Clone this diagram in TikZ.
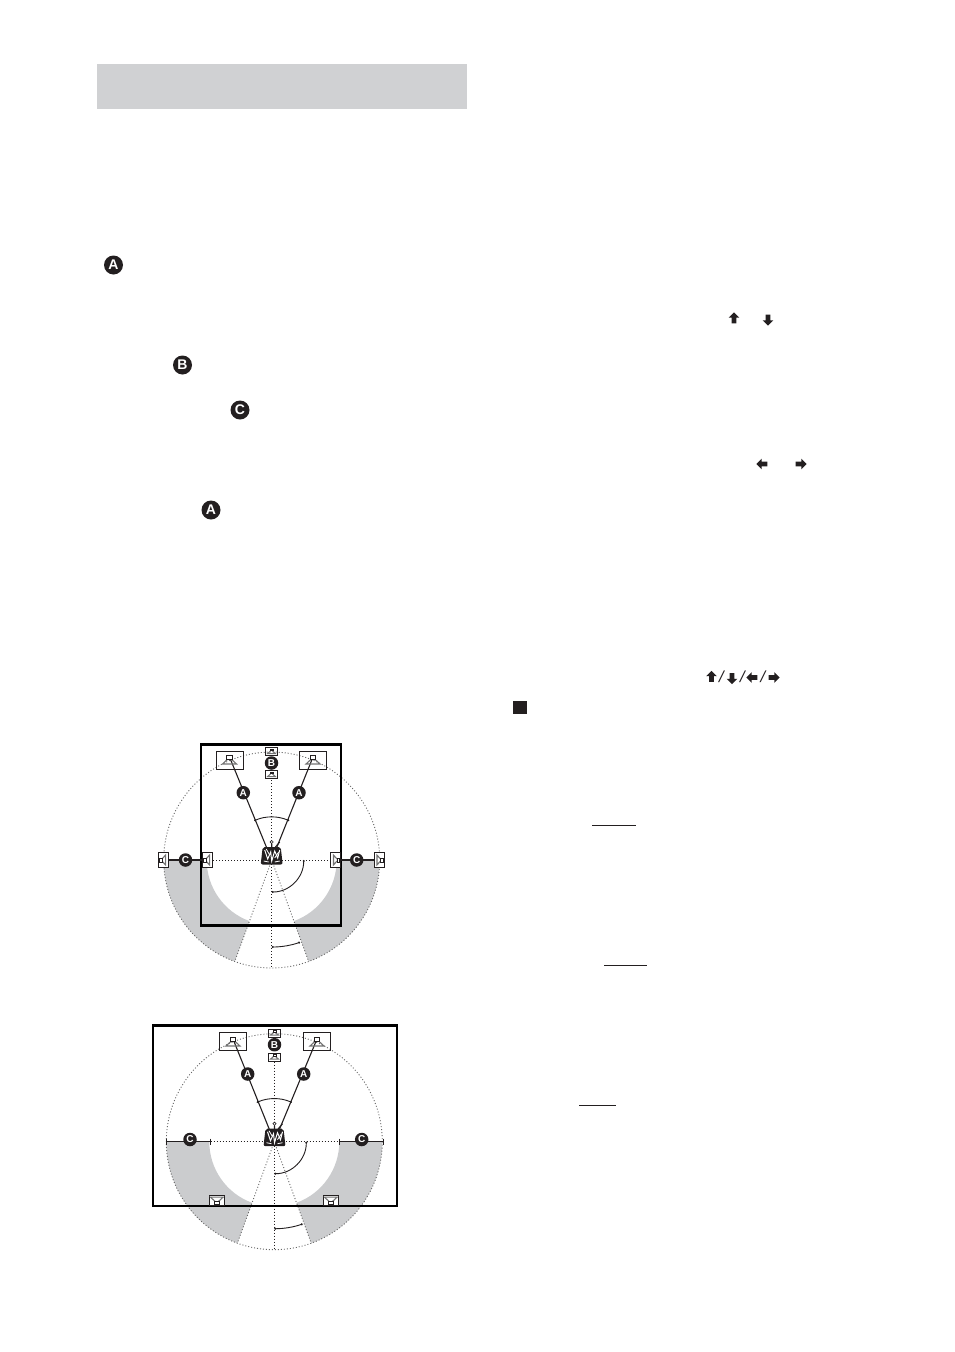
\documentclass[tikz,border=0pt]{standalone}
\usepackage{xcolor}
\usepackage{fontspec}
\usepackage{tikz}
\usetikzlibrary{shapes.arrows,arrows.meta}
\setmainfont{Liberation Sans}

\definecolor{bandgray}{HTML}{D0D1D3}
\definecolor{roomgray}{HTML}{CBCCCE}
\definecolor{inkblack}{HTML}{231F20}

\tikzset{
    bigbadge/.style={circle,fill=inkblack,text=white,inner sep=0pt,minimum size=19pt,font=\fontsize{14}{14}\bfseries},
    badge/.style={circle,fill=inkblack,text=white,inner sep=0pt,minimum size=13.5pt,font=\fontsize{10}{10}\bfseries},
    spkbox/.style={draw=inkblack,line width=0.9pt,inner sep=0pt},
    spkwhite/.style={spkbox,fill=white},
    roombox/.style={draw=black,line width=2.7pt},
    dotline/.style={draw=inkblack,line width=1pt,dash pattern=on 1pt off 2pt},
    dotgray/.style={draw=black!60,line width=0.9pt,dash pattern=on 1pt off 2pt},
    wire/.style={draw=inkblack,line width=1.1pt},
    anglearc/.style={draw=inkblack,line width=0.9pt},
    keyarrow/.style={single arrow,fill=inkblack,inner sep=2.1pt,minimum height=11pt,single arrow head extend=3pt},
    slashkey/.style={font=\fontsize{16}{16}\selectfont,text=inkblack,inner sep=0pt,xslant=0.22},
    spkglyph/.pic={
        \draw[black!55,line width=1.1pt] (0,0) -- (7,6.5) -- (-7,6.5) -- cycle;
        \draw[inkblack,fill=white,line width=0.8pt] (-2.7,-2) rectangle (2.7,1.5);
    },
    tvset/.pic={
        \fill[inkblack,rounded corners=2pt] (-9,-8) -- (9,-8) -- (11,9.5) -- (-11,9.5) -- cycle;
        \draw[white,line width=1pt] (-7,-5) -- (-4,4) -- (-1,-3) -- (0,6) -- (3,-4) -- (6,3) -- (8,-5);
        \draw[white,line width=0.8pt] (-8,6) -- (-3,7) (3,7) -- (8,6) (-5.5,-6) -- (-2,0) (7,-3) -- (3,3);
        \draw[inkblack,fill=white,line width=0.6pt] (0,-13) circle (1.6);
        \draw[inkblack,line width=1.1pt] (0,-11) -- (0,-7) (8,-13) -- (3,-7);
    }
}

\begin{document}
\begin{tikzpicture}[x=1pt,y=-1pt]
    \useasboundingbox (0,0) rectangle (954,1352);

    % heading band
    \fill[bandgray] (97,64) rectangle (467,108.5);

    % markers in the left column
    \node[bigbadge] (markA) at (113.5,265) {A};
    \node[bigbadge] (markB) at (182.5,365) {B};
    \node[bigbadge] (markC) at (240,410) {C};
    \node[bigbadge] (markAtwo) at (211,510) {A};

    % keys in the right column
    \node[keyarrow,rotate=90] (keyup) at (734,319) {};
    \node[keyarrow,rotate=-90] (keydown) at (768,319) {};
    \node[keyarrow,rotate=180] (keyleft) at (763,464) {};
    \node[keyarrow] (keyright) at (800,464) {};
    \node[keyarrow,rotate=90] (rowup) at (711.5,677.5) {};
    \node[keyarrow,rotate=-90] (rowdown) at (732,677.5) {};
    \node[keyarrow,rotate=180] (rowleft) at (753,677.5) {};
    \node[keyarrow] (rowright) at (773,677.5) {};
    \node[slashkey] (slashone) at (721.5,677) {/};
    \node[slashkey] (slashtwo) at (742.5,677) {/};
    \node[slashkey] (slashthree) at (763,677) {/};
    \fill[inkblack] (513,700.5) rectangle (526.5,714);

    \draw[inkblack,line width=1pt] (592,825.5) -- (636,825.5);
    \draw[inkblack,line width=1pt] (604,965.5) -- (647,965.5);
    \draw[inkblack,line width=1pt] (579,1105.5) -- (616,1105.5);

    % both rooms share the circle, the bands and the angles
    \foreach \cx/\cy/\nm in {271.7/860/top, 274.3/1141.7/low}{
        \coordinate (\nm c) at (\cx,\cy);
        \begin{scope}[shift={(\cx,\cy)}]
            \fill[roomgray] (180:65) arc (180:110:65) -- (110:108) arc (110:180:108) -- cycle;
            \fill[roomgray] (0:65) arc (0:70:65) -- (70:108) arc (70:0:108) -- cycle;
            \draw[dotgray] (0,0) circle (108);
            \draw[dotgray] (0,0) -- (110:108);
            \draw[dotgray] (0,0) -- (70:108);
            \draw[dotline] (0,-80) -- (0,107);
            \draw[anglearc,{Circle[length=2pt]}-{Circle[length=2pt]}] (-114:43) arc (-114:-66:43);
            \draw[anglearc,{Circle[length=2pt]}-{Circle[length=2pt]}] (0:32) arc (0:90:32);
            \draw[anglearc,{Circle[length=2pt]}-{Circle[length=2pt]}] (90:87) arc (90:71:87);
        \end{scope}
    }

    % room with the side speakers
    \draw[roombox] (201,744.5) rectangle (341,925.5);
    \draw[dotline] (213,860) -- (330,860);

    \node[spkbox,minimum width=27pt,minimum height=18pt] (topfl) at (229.8,760) {};
    \node[spkbox,minimum width=27pt,minimum height=18pt] (topfr) at (313,760) {};
    \node[spkbox,minimum width=12pt,minimum height=8pt] (topcup) at (271.5,751.7) {};
    \node[spkbox,minimum width=12pt,minimum height=8pt] (topcdn) at (271.5,774.6) {};
    \node[spkwhite,minimum width=10pt,minimum height=15pt] (topol) at (163.3,860) {};
    \node[spkwhite,minimum width=10pt,minimum height=15pt] (topil) at (207.2,860) {};
    \node[spkwhite,minimum width=10pt,minimum height=15pt] (topir) at (335.5,860) {};
    \node[spkwhite,minimum width=10pt,minimum height=15pt] (topor) at (379.3,860) {};

    \draw[wire] (229.5,757) -- (topc);
    \draw[wire] (313,757) -- (topc);
    \draw[wire] (topol) -- (topil);
    \draw[wire] (topir) -- (topor);

    \pic at (229.5,757.5) {spkglyph};
    \pic at (313,757.5) {spkglyph};
    \pic[scale=0.55] at (271.5,750) {spkglyph};
    \pic[scale=0.55] at (271.5,773) {spkglyph};
    \pic[scale=0.7,rotate=90] at (161,860) {spkglyph};
    \pic[scale=0.7,rotate=90] at (205,860) {spkglyph};
    \pic[scale=0.7,rotate=-90] at (338,860) {spkglyph};
    \pic[scale=0.7,rotate=-90] at (381.5,860) {spkglyph};
    \pic at (271.7,855) {tvset};

    \node[badge] (topa) at (243.3,792.7) {A};
    \node[badge] (topb) at (299,792.7) {A};
    \node[badge] (topB) at (271.5,763) {B};
    \node[badge] (topC) at (185.5,860) {C};
    \node[badge] (topD) at (356.7,860) {C};

    % wide room with the rear speakers
    \draw[roombox] (153,1025.5) rectangle (397,1206);
    \draw[dotline] (210.7,1141.7) -- (339.3,1141.7);

    \node[spkbox,minimum width=27.5pt,minimum height=18pt] (lowfl) at (233,1041.5) {};
    \node[spkbox,minimum width=27pt,minimum height=18pt] (lowfr) at (317,1041.5) {};
    \node[spkbox,minimum width=12pt,minimum height=8pt] (lowcup) at (274.5,1033.3) {};
    \node[spkbox,minimum width=12pt,minimum height=8pt] (lowcdn) at (274.5,1057) {};
    \node[spkwhite,minimum width=15pt,minimum height=10pt] (lowrl) at (216.8,1200) {};
    \node[spkwhite,minimum width=15pt,minimum height=10pt] (lowrr) at (330.8,1200) {};
    \coordinate (lowsl) at (166.7,1141.7);
    \coordinate (lowil) at (210.7,1141.7);
    \coordinate (lowir) at (339.3,1141.7);
    \coordinate (lowsr) at (383.3,1141.7);

    \draw[wire] (233,1039) -- (lowc);
    \draw[wire] (317,1039) -- (lowc);
    \draw[wire] (lowsl) -- (lowil);
    \draw[wire] (lowir) -- (lowsr);
    \draw[wire] (166.7,1138.7) -- (166.7,1144.7);
    \draw[wire] (210.7,1138.7) -- (210.7,1144.7);
    \draw[wire] (339.3,1138.7) -- (339.3,1144.7);
    \draw[wire] (383.3,1138.7) -- (383.3,1144.7);

    \pic at (233,1039.5) {spkglyph};
    \pic at (317,1039.5) {spkglyph};
    \pic[scale=0.55] at (274.5,1031.5) {spkglyph};
    \pic[scale=0.55] at (274.5,1055.5) {spkglyph};
    \pic[scale=0.9,rotate=180] at (216.8,1203) {spkglyph};
    \pic[scale=0.9,rotate=180] at (330.8,1203) {spkglyph};
    \pic at (274.5,1136.7) {tvset};

    \node[badge] (lowa) at (247.7,1074) {A};
    \node[badge] (lowb) at (303.7,1074) {A};
    \node[badge] (lowB) at (274.5,1044.7) {B};
    \node[badge] (lowC) at (190,1139.5) {C};
    \node[badge] (lowD) at (361.7,1139.5) {C};
\end{tikzpicture}
\end{document}
